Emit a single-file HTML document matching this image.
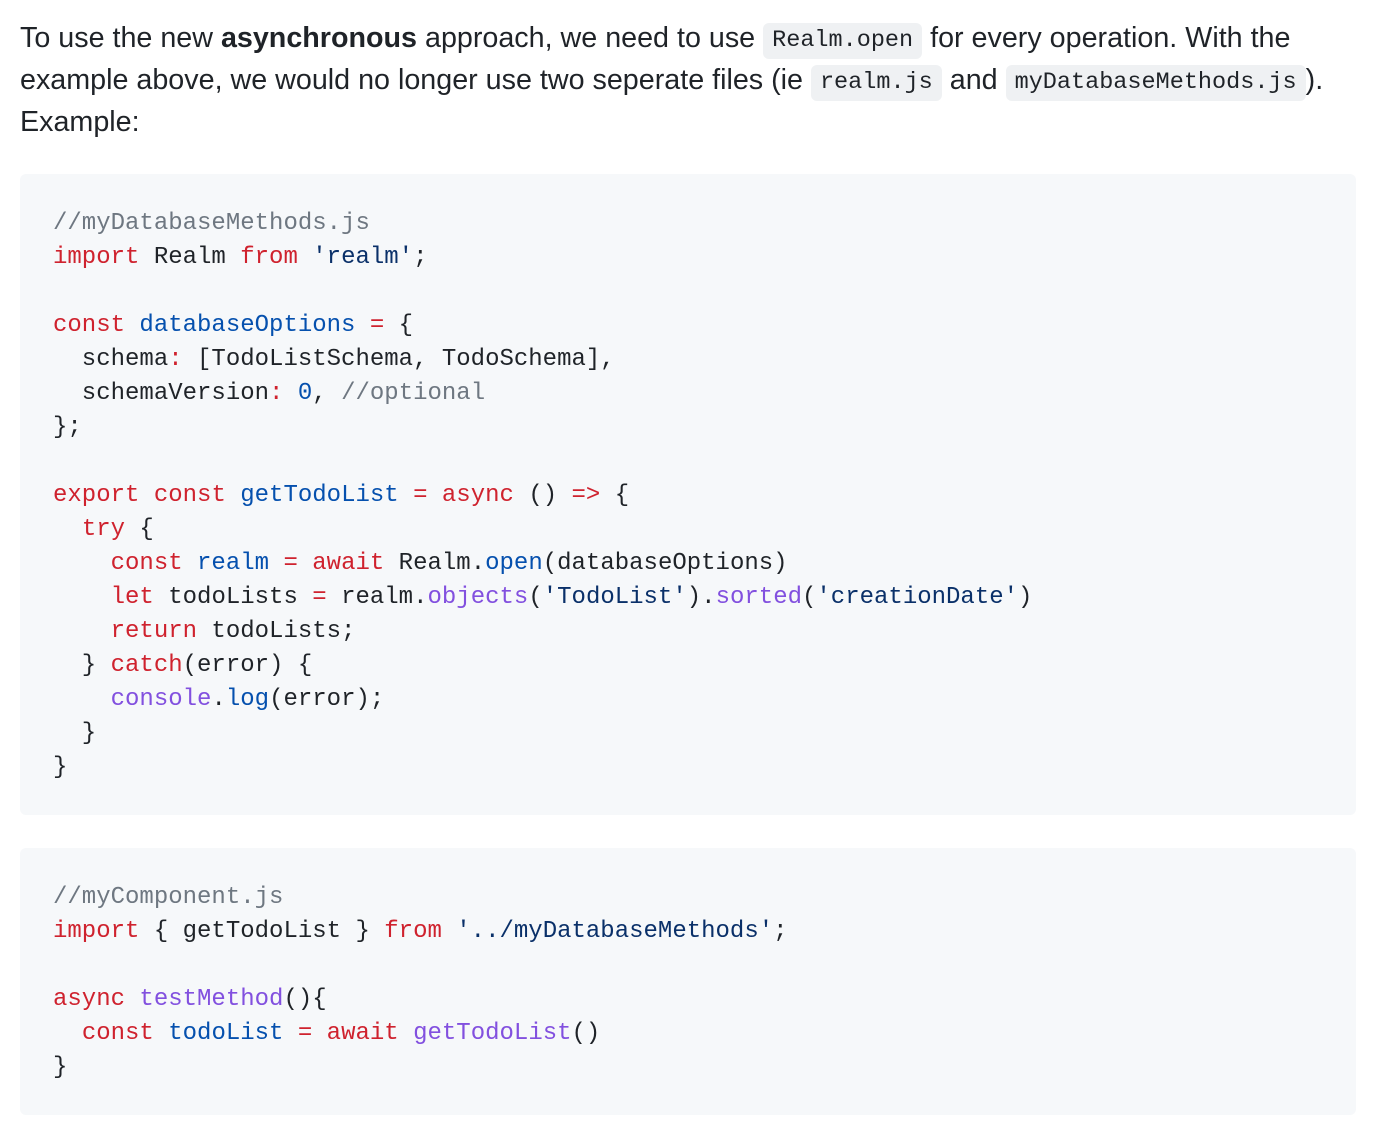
<!DOCTYPE html>
<html><head><meta charset="utf-8"><style>
body{margin:0;background:#fff;width:1382px;height:1132px;overflow:hidden;font-family:"Liberation Sans",Helvetica,Arial,sans-serif;color:#1f2328}
p{position:absolute;left:20px;top:17px;margin:0;font-size:28.7px;line-height:42px;width:1360px;white-space:nowrap;letter-spacing:0}
code.i{font-family:"Liberation Mono",monospace;font-size:23.5px;background:#eff1f3;border-radius:6px;padding:0 9px;display:inline-block;line-height:36px;vertical-align:1px;letter-spacing:0}
pre{position:absolute;left:20px;width:1336px;margin:0;background:#f6f8fa;border-radius:6px;box-sizing:border-box;padding:0 33px;font-family:"Liberation Mono",monospace;font-size:24px;line-height:34px;color:#1f2328}
.k{color:#cf222e}.b{color:#0550ae}.p{color:#8250df}.s{color:#0a3069}.c{color:#6e7781}
</style></head><body>
<p>To use the new <b>asynchronous</b> approach, we need to use <code class="i">Realm.open</code> for every operation. With the<br>example above, we would no longer use two seperate files (ie <code class="i">realm.js</code> and <code class="i">myDatabaseMethods.js</code>).<br>Example:</p>
<pre style="top:174px;height:641px;padding-top:33px"><span class="c">//myDatabaseMethods.js</span>
<span class="k">import</span> Realm <span class="k">from</span> <span class="s">'realm'</span>;

<span class="k">const</span> <span class="b">databaseOptions</span> <span class="k">=</span> {
  schema<span class="k">:</span> [TodoListSchema, TodoSchema],
  schemaVersion<span class="k">:</span> <span class="b">0</span>, <span class="c">//optional</span>
};

<span class="k">export</span> <span class="k">const</span> <span class="b">getTodoList</span> <span class="k">=</span> <span class="k">async</span> () <span class="k">=&gt;</span> {
  <span class="k">try</span> {
    <span class="k">const</span> <span class="b">realm</span> <span class="k">=</span> <span class="k">await</span> Realm.<span class="b">open</span>(databaseOptions)
    <span class="k">let</span> todoLists <span class="k">=</span> realm.<span class="p">objects</span>(<span class="s">'TodoList'</span>).<span class="p">sorted</span>(<span class="s">'creationDate'</span>)
    <span class="k">return</span> todoLists;
  } <span class="k">catch</span>(error) {
    <span class="p">console</span>.<span class="b">log</span>(error);
  }
}</pre>
<pre style="top:848px;height:267px;padding-top:33px"><span class="c">//myComponent.js</span>
<span class="k">import</span> { getTodoList } <span class="k">from</span> <span class="s">'../myDatabaseMethods'</span>;

<span class="k">async</span> <span class="p">testMethod</span>(){
  <span class="k">const</span> <span class="b">todoList</span> <span class="k">=</span> <span class="k">await</span> <span class="p">getTodoList</span>()
}</pre>
</body></html>
